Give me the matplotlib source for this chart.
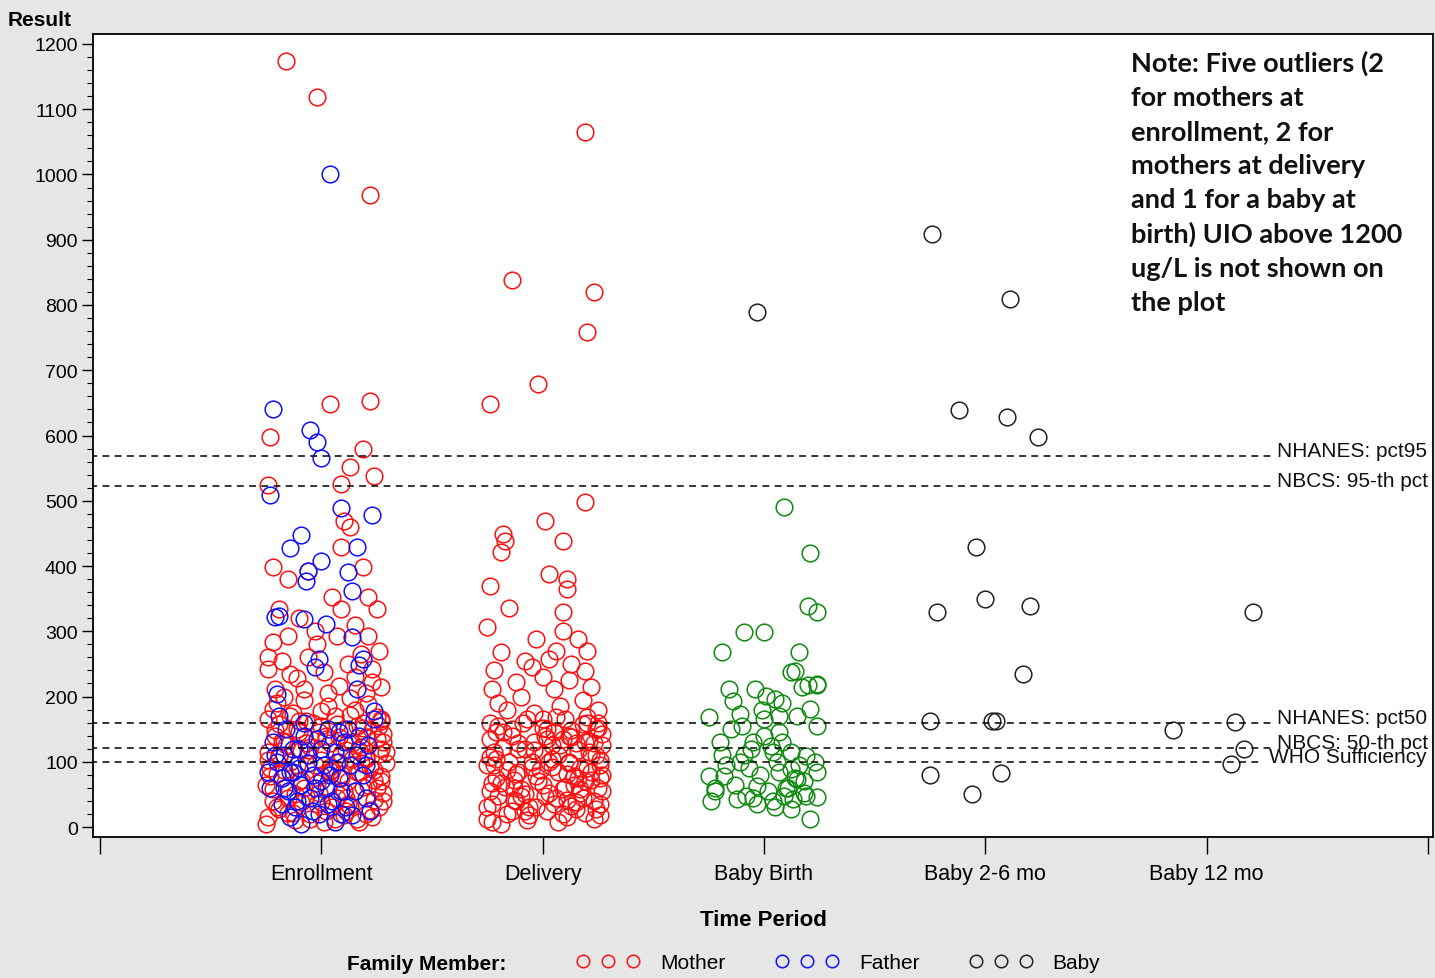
import matplotlib
matplotlib.use('Agg')
import matplotlib.pyplot as plt
from matplotlib.lines import Line2D
from matplotlib.ticker import MultipleLocator

# categories on the x axis (position 1..5)
periods = ['Enrollment', 'Delivery', 'Baby Birth', 'Baby 2-6 mo', 'Baby 12 mo']

# reference lines
ref_names = ['NHANES: pct95', 'NBCS: 95-th pct', 'NHANES: pct50', 'NBCS: 50-th pct', 'WHO Sufficiency']
ref_values = [568, 523, 159, 121, 100]

# Mother at enrollment: jitter offset / result
enr_mother_off = [-0.16, -0.02, 0.22, 0.04, 0.22, -0.23, 0.19, 0.13, 0.24, -0.24, 0.09,
                  0.10, 0.13, 0.09, 0.19, -0.22, -0.15, -0.06, 0.05, 0.21, 0.25, 0.09, -0.19,
                  -0.15, -0.22, 0.21, 0.07, -0.24, -0.24, -0.06, 0.23, 0.23, -0.14, 0.01, 0.08,
                  -0.08, -0.21, -0.10, 0.15, -0.02, 0.18, -0.18, 0.12, -0.11, 0.20, 0.03, -0.17,
                  0.27, 0.15, -0.03, 0.26,
                  -0.24, -0.15, -0.05, 0.02, 0.10, 0.20, 0.26,
                  -0.22, -0.12, -0.02, 0.07, 0.15, 0.24, 0.28,
                  -0.25, -0.18, -0.08, 0.00, 0.12, 0.19, 0.27,
                  -0.23, -0.14, -0.03, 0.05, 0.14, 0.22, 0.29,
                  -0.24, -0.16, -0.06, 0.04, 0.11, 0.18, 0.26,
                  -0.21, -0.11, -0.01, 0.08, 0.16, 0.23, 0.28,
                  -0.24, -0.13, -0.04, 0.06, 0.15, 0.25,
                  -0.20, -0.08, 0.03, 0.13, 0.21,
                  -0.19, -0.09, 0.05, 0.13, 0.22,
                  -0.20, -0.10, 0.04, 0.09, 0.17, 0.24,
                  -0.19, -0.09, 0.00, 0.09, 0.20, 0.27,
                  -0.17, -0.07, 0.02, 0.12, 0.20,
                  -0.19, -0.10, 0.00, 0.10, 0.19, 0.27,
                  -0.22, -0.12, 0.01, 0.16, 0.25, 0.28, -0.05, 0.11,
                  -0.25, -0.20, -0.13, -0.07, 0.00, 0.06, 0.12, 0.17, 0.23, 0.28,
                  -0.22, -0.17, -0.09, -0.02, 0.04, 0.10, 0.16, 0.21, 0.27,
                  -0.24, -0.18, -0.11, -0.05, 0.02, 0.08, 0.14, 0.20, 0.25, 0.29,
                  -0.21, -0.14, -0.07, 0.00, 0.07, 0.13, 0.19, 0.26,
                  -0.23, -0.15, -0.06, 0.03, 0.11, 0.18, 0.24,
                  -0.19, -0.10, -0.01, 0.09, 0.17, 0.27]
enr_mother_val = [1174, 1119, 969, 648, 653, 598, 579, 552, 538, 524, 526,
                  469, 460, 429, 398, 398, 380, 392, 352, 352, 334, 334, 334,
                  293, 283, 293, 293, 261, 242, 261, 242, 222, 234, 237, 216,
                  211, 211, 320, 310, 280, 265, 255, 250, 228, 205, 205, 200,
                  215, 230, 300, 270,
                  15, 22, 12, 25, 18, 20, 30,
                  40, 50, 35, 45, 55, 42, 52,
                  65, 75, 60, 80, 70, 62, 78,
                  90, 100, 95, 88, 105, 92, 98,
                  115, 125, 110, 128, 118, 122, 112,
                  140, 150, 145, 138, 155, 148, 142,
                  165, 175, 160, 170, 180, 168,
                  190, 195, 185, 198, 188,
                  28, 38, 30, 32, 26,
                  82, 70, 86, 75, 84, 72,
                  108, 118, 102, 112, 105, 120,
                  132, 128, 135, 130, 138,
                  158, 162, 155, 150, 160, 165,
                  181, 10, 8, 12, 60, 130, 20, 45,
                  5, 30, 22, 48, 38, 12, 35, 8, 15, 40,
                  58, 88, 72, 68, 92, 55, 85, 65, 70,
                  102, 132, 95, 122, 140, 100, 128, 108, 135, 115,
                  148, 170, 162, 178, 158, 172, 152, 155,
                  78, 45, 118, 62, 25, 98, 88,
                  110, 145, 52, 82, 118, 162]

# Father at enrollment
enr_father_off = [0.04, -0.22, -0.05, -0.02, 0.00, -0.23, 0.09, 0.23, -0.09, -0.14, 0.16,
                  0.00, -0.06, 0.12, 0.14, -0.07, -0.21, -0.19, -0.08, 0.02, 0.14, -0.01,
                  -0.03, 0.17, 0.19, 0.16, 0.24, -0.20,
                  -0.22, -0.20, -0.18, -0.16, -0.15, -0.13, -0.12, -0.10, -0.09, -0.08,
                  -0.06, -0.05, -0.04, -0.02, -0.01, 0.01, 0.02, 0.03, 0.05, 0.06, 0.08,
                  0.10, 0.11, 0.13, 0.15, 0.17, 0.19, 0.22, 0.24, 0.20, -0.24, -0.19,
                  0.00, -0.11, 0.07, -0.09, -0.17, -0.03, 0.09, -0.14, 0.21,
                  -0.21, -0.17, -0.13, -0.08, -0.04, 0.00, 0.04, 0.09, 0.12, 0.16,
                  0.20, -0.23, -0.14, -0.06, 0.03, 0.08, 0.14, -0.18, -0.10, 0.06]
enr_father_val = [1000, 640, 608, 590, 566, 509, 489, 478, 447, 428, 429,
                  408, 392, 391, 362, 377, 322, 323, 319, 311, 291, 257,
                  245, 248, 257, 211, 178, 204,
                  130, 100, 75, 150, 55, 120, 30, 90, 65, 160,
                  110, 45, 80, 135, 20, 95, 60, 150, 40, 115, 75,
                  130, 30, 95, 55, 140, 80, 25, 165, 45, 85, 170,
                  70, 40, 100, 5, 110, 60, 20, 85, 125,
                  110, 60, 85, 140, 25, 120, 80, 55, 150, 110,
                  95, 60, 15, 98, 35, 145, 18, 35, 120, 8]

# Mother at delivery
del_mother_off = [0.19, -0.14, 0.23, 0.20, -0.02, -0.24, 0.19, 0.01, -0.18, -0.17, -0.19,
                  0.09, 0.03, 0.11, 0.11, -0.24, -0.15, 0.09, -0.25, 0.09, 0.16, -0.03,
                  -0.19, 0.06, 0.20, -0.08, -0.05, 0.03, 0.13, 0.19, -0.23, -0.12, 0.05,
                  -0.20, -0.10, 0.00, 0.12, 0.22, -0.16, 0.08, 0.18, -0.04, 0.25, -0.22,
                  -0.25, -0.16, -0.07, 0.02, 0.11, 0.19, 0.26,
                  -0.23, -0.13, -0.03, 0.06, 0.15, 0.23,
                  -0.24, -0.17, -0.08, 0.00, 0.09, 0.17, 0.25,
                  -0.21, -0.12, -0.02, 0.07, 0.14, 0.22, 0.27,
                  -0.25, -0.15, -0.05, 0.04, 0.12, 0.20, 0.26,
                  -0.22, -0.11, 0.00, 0.08, 0.16, 0.24,
                  -0.24, -0.14, -0.04, 0.05, 0.13, 0.21, 0.27,
                  -0.20, -0.09, 0.02, 0.10, 0.18, 0.25,
                  -0.19, -0.10, -0.01, 0.07, 0.15, 0.23,
                  -0.23, -0.13, -0.06, 0.03, 0.11, 0.19, 0.26,
                  -0.18, -0.08, 0.01, 0.09, 0.17, 0.24,
                  -0.21, -0.11, 0.04, 0.14, 0.22,
                  -0.24, 0.00, 0.20, -0.14, 0.12,
                  -0.25, -0.19, -0.12, -0.06, 0.01, 0.07, 0.13, 0.18, 0.24, 0.27,
                  -0.23, -0.16, -0.10, -0.03, 0.04, 0.10, 0.16, 0.22, 0.26,
                  -0.24, -0.18, -0.11, -0.04, 0.03, 0.09, 0.15, 0.21, 0.27,
                  -0.21, -0.14, -0.07, 0.00, 0.06, 0.13, 0.20, 0.25,
                  -0.20, -0.13, -0.05, 0.05, 0.11, 0.17, 0.23,
                  -0.22, -0.08, 0.02, 0.12, 0.19, 0.26]
del_mother_val = [1065, 838, 820, 759, 679, 648, 498, 469, 449, 438, 421,
                  438, 388, 380, 365, 369, 336, 330, 307, 300, 288, 288,
                  268, 270, 270, 254, 245, 257, 250, 239, 211, 222, 211,
                  190, 200, 230, 225, 215, 180, 185, 195, 175, 180, 240,
                  12, 20, 10, 25, 15, 22, 18,
                  35, 42, 30, 45, 38, 40,
                  55, 62, 50, 65, 58, 52, 60,
                  75, 82, 70, 85, 78, 72, 80,
                  95, 100, 92, 105, 98, 90, 102,
                  115, 120, 112, 125, 118, 110,
                  135, 140, 130, 145, 138, 132, 142,
                  155, 160, 150, 165, 158, 152,
                  68, 48, 88, 110, 28, 128,
                  8, 60, 30, 52, 42, 70, 35,
                  145, 120, 140, 20, 90, 150,
                  105, 85, 125, 65, 110,
                  160, 165, 160, 25, 140,
                  30, 5, 40, 18, 48, 8, 32, 45, 28, 55,
                  68, 88, 58, 78, 92, 62, 75, 85, 95,
                  108, 122, 128, 118, 100, 135, 128, 115, 125,
                  145, 150, 165, 152, 168, 148, 168, 160,
                  48, 72, 100, 35, 82, 58, 12,
                  95, 25, 135, 100, 130, 75]

# Baby at birth
bb_off = [0.09, 0.21, 0.20, 0.24, -0.09, 0.00, -0.19, 0.16, 0.14, 0.20, 0.24,
          -0.25, -0.16, -0.14, -0.04, 0.01, 0.05, 0.17, 0.24,
          -0.11, -0.10, 0.00, 0.07, 0.07, 0.15, 0.21, 0.24,
          -0.20, -0.05, 0.03, -0.11, 0.06, 0.19, 0.24, -0.25, -0.18, 0.07, 0.12,
          0.15, -0.03, -0.24, -0.12, -0.08, -0.03, 0.09, 0.13, 0.19, 0.24, 0.12,
          0.21, 0.04, 0.12, -0.06, 0.00, 0.12, -0.22, -0.07, 0.02, 0.10, 0.18,
          -0.15, -0.01, 0.08, 0.16, -0.19, 0.05,
          -0.22, -0.13, -0.05, 0.04, 0.11, 0.18, 0.23, -0.17, -0.02, 0.14, 0.08, -0.09]
bb_val = [490, 420, 339, 330, 299, 299, 268, 268, 239, 218, 218,
          169, 211, 193, 211, 201, 196, 215, 219,
          173, 155, 139, 170, 146, 170, 181, 155,
          130, 130, 124, 100, 100, 109, 84, 78, 78, 84, 89,
          74, 63, 40, 43, 48, 35, 48, 43, 48, 46, 28,
          12, 115, 115, 120, 166, 238, 60, 90, 55, 60, 70,
          150, 180, 130, 95, 110, 30,
          55, 65, 45, 40, 60, 52, 100, 95, 80, 75, 190, 110]
bb_black_off = [-0.03]
bb_black_val = [789]

# Baby at 2-6 mo and 12 mo
b26_off = [-0.24, 0.11, -0.12, 0.10, 0.24, -0.04, -0.22, 0.00, 0.20, 0.17, -0.25,
           0.03, 0.05, -0.25, 0.07, -0.06]
b26_val = [909, 809, 639, 628, 598, 429, 330, 349, 339, 234, 162, 162, 162, 80, 83, 51]
b12_off = [0.21, -0.15, 0.13, 0.17, 0.11]
b12_val = [330, 149, 161, 120, 97]

MOTHER = '#ff1010'
FATHER = '#1010ff'
BABY = '#222222'
BIRTH = '#108a10'

fig = plt.figure(figsize=(14.35, 9.79), dpi=100)
fig.patch.set_facecolor('#e6e6e6')
ax = fig.add_axes([93 / 1435, 1 - 838 / 979, 1340 / 1435, 803 / 979])
ax.set_facecolor('white')


def draw(pos, offs, vals, color):
    xs = [pos + o for o in offs]
    ax.plot(xs, vals, ls='none', marker='o', ms=12, mfc='none', mec=color, mew=1.1)


draw(1, enr_mother_off, enr_mother_val, MOTHER)
draw(1, enr_father_off, enr_father_val, FATHER)
draw(2, del_mother_off, del_mother_val, MOTHER)
draw(3, bb_off, bb_val, BIRTH)
draw(3, bb_black_off, bb_black_val, BABY)
draw(4, b26_off, b26_val, BABY)
draw(5, b12_off, b12_val, BABY)

# reference lines with labels at the right
label_x = [5.32, 5.32, 5.32, 5.32, 5.28]
for name, v, lx in zip(ref_names, ref_values, label_x):
    ax.plot([-0.1, lx - 0.03], [v, v], color='black', lw=1.1, dashes=(4.5, 3.5))
    ax.text(lx, v, name, fontsize=15, va='baseline', ha='left', color='#111111',
            family='Liberation Sans', clip_on=True)

ax.set_xlim(-0.032, 6.023)
ax.set_ylim(-15.3, 1215.3)
ax.set_xticks(range(7))
ax.set_xticklabels([''] + periods + [''], fontsize=15.5, family='Liberation Sans')
ax.yaxis.set_major_locator(MultipleLocator(100))
ax.yaxis.set_minor_locator(MultipleLocator(20))
ax.tick_params(axis='y', labelsize=14, length=8, width=1.0, pad=3)
ax.tick_params(axis='y', which='minor', length=4, width=0.8)
ax.tick_params(axis='x', length=12, width=1.0, pad=7)
for lab in ax.get_yticklabels():
    lab.set_family('Liberation Sans')
for sp in ax.spines.values():
    sp.set_linewidth(1.3)

ax.set_xlabel('Time Period', fontsize=16, weight='bold', family='Liberation Sans', labelpad=18)
fig.text(8 / 1435, 1 - 20 / 979, 'Result', fontsize=15, weight='bold', va='center',
         family='Liberation Sans')

note = ('Note: Five outliers (2\nfor mothers at\nenrollment, 2 for\nmothers at delivery\n'
        'and 1 for a baby at\nbirth) UIO above 1200\nug/L is not shown on\nthe plot')
fig.text(1131 / 1435, 1 - 51 / 979, note, fontsize=19.5, weight='bold', va='top', ha='left',
         family='Lato', linespacing=1.49, color='#111111')

# legend at the bottom
fig.text(347 / 1435, 1 - 965 / 979, 'Family Member:', fontsize=15, weight='bold',
         va='center', family='Liberation Sans')
handles = [Line2D([], [], ls='none', marker='o', ms=9, mfc='none', mec=c, mew=1.1)
           for c in (MOTHER, FATHER, BABY)]
fig.legend(handles, ['Mother', 'Father', 'Baby'], loc='center left',
           bbox_to_anchor=(577 / 1435, 1 - 964 / 979), ncol=3, frameon=False,
           numpoints=3, handlelength=3.0, handletextpad=1.0, columnspacing=2.4,
           borderpad=0, borderaxespad=0, prop={'family': 'Liberation Sans', 'size': 15})

fig.savefig('out.png', dpi=100, facecolor=fig.get_facecolor())
